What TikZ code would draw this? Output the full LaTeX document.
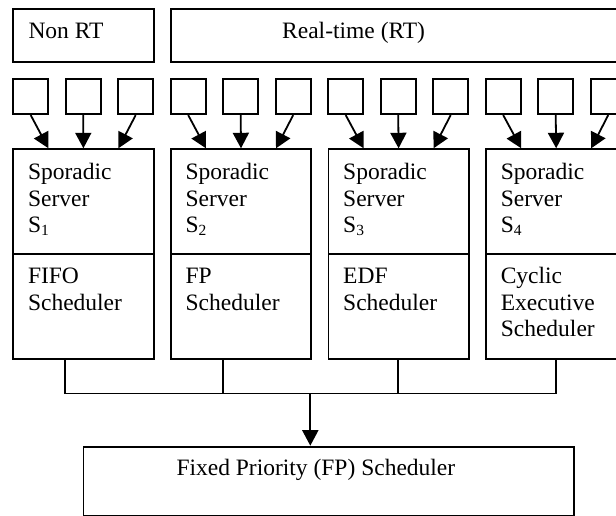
\documentclass[tikz,border=0pt]{standalone}
\usepackage{fontspec}
\setmainfont{Liberation Serif}
\usetikzlibrary{arrows.meta,calc}

% sizes are in points, y grows downwards
\tikzset{
  box/.style={draw, line width=1.8pt, inner sep=0pt, anchor=north west, rectangle},
  txt/.style={anchor=base west, inner sep=0pt, font=\fontsize{23.5}{26.8}\selectfont},
  coltxt/.style={txt, align=left, text width=130pt},
  link/.style={line width=1.8pt},
  feed/.style={link, -{Triangle[length=15.5pt,width=16pt]}},
}
\newcommand{\subidx}[1]{\raisebox{-3pt}{\fontsize{15.5}{15.5}\selectfont #1}}

\begin{document}
\begin{tikzpicture}[x=1pt,y=-1pt]
  \clip (0,0) rectangle (616,516);

  % class headers
  \node[box, minimum width=140.4pt, minimum height=52.7pt] (nonrt) at (12.3,8.3) {};
  \node[box, minimum width=470pt, minimum height=52.7pt] (rt) at (170,8.3) {};
  \node[txt] (nonrtlbl) at (28.3,39) {Non RT};
  \node[txt] (rtlbl) at (282,39) {Real-time (RT)};

  % task queues
  \foreach \k in {0,...,11}
    \node[box, minimum width=35pt, minimum height=35pt] (q\k) at ({12.3+52.5*\k},78.3) {};

  % servers and their local schedulers
  \foreach \i/\sched in {1/{FIFO\\Scheduler}, 2/{FP\\Scheduler}, 3/{EDF\\Scheduler}, 4/{Cyclic\\Executive\\Scheduler}} {
    \pgfmathsetmacro{\colx}{12.3+157.6*(\i-1)}
    \node[box, minimum width=140.4pt, minimum height=105pt] (srv\i) at (\colx,148.3) {};
    \node[box, minimum width=140.4pt, minimum height=105pt] (sch\i) at (\colx,253.3) {};
    \node[coltxt] (srvlbl\i) at (\colx+15.5,179.3) {Sporadic\\Server\\S\subidx{\i}};
    \node[coltxt] (schlbl\i) at (\colx+15.5,283.3) {\sched};
  }

  % queues feed the servers
  \foreach \i in {1,...,4} {
    \pgfmathtruncatemacro{\qa}{3*(\i-1)}
    \pgfmathtruncatemacro{\qb}{3*(\i-1)+1}
    \pgfmathtruncatemacro{\qc}{3*(\i-1)+2}
    \draw[feed] (q\qa.south) -- ($(srv\i.north)+(-35,0)$);
    \draw[feed] (q\qb.south) -- (srv\i.north);
    \draw[feed] (q\qc.south) -- ($(srv\i.north)+(35,0)$);
  }

  % global scheduler
  \node[box, minimum width=490.5pt, minimum height=69.5pt] (fp) at (82.5,445.7) {};
  \node[txt] (fplbl) at (176.3,475) {Fixed Priority (FP) Scheduler};

  % collecting bus
  \coordinate (j1) at (65,393.5);
  \coordinate (j2) at (222.7,393.5);
  \coordinate (j3) at (398,393.5);
  \coordinate (j4) at (555.7,393.5);
  \coordinate (jm) at (310.3,393.5);
  \draw[link] (sch1.south -| j1) -- (j1) -- (j4) -- (sch4.south -| j4);
  \draw[link] (sch2.south -| j2) -- (j2);
  \draw[link] (sch3.south -| j3) -- (j3);
  \draw[feed] (jm) -- (jm |- fp.north);
\end{tikzpicture}
\end{document}
